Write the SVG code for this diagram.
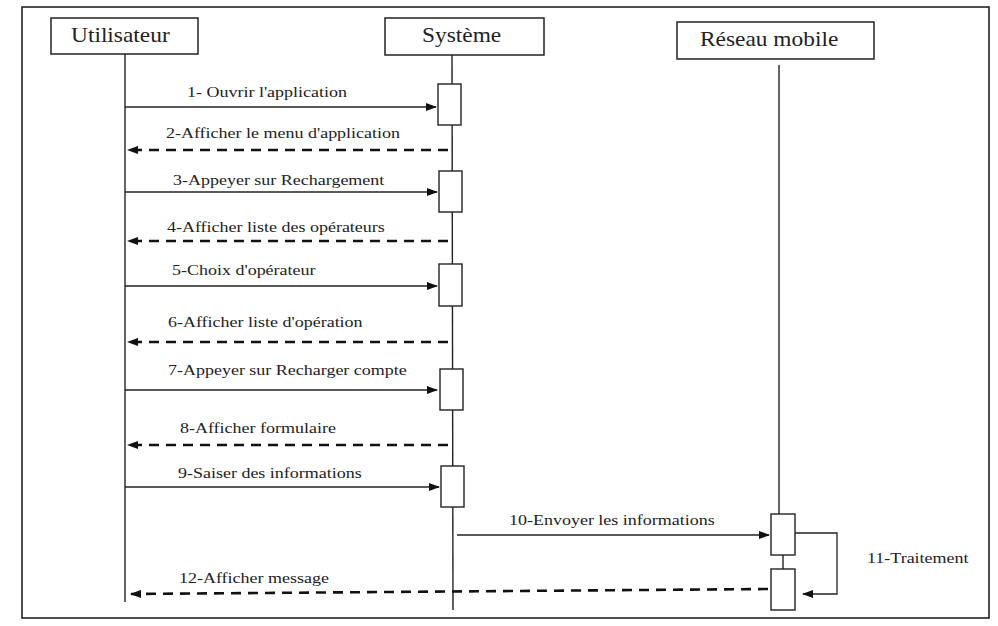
<svg xmlns="http://www.w3.org/2000/svg" width="998" height="626" viewBox="0 0 998 626">
<defs>
<marker id="ah" markerUnits="userSpaceOnUse" markerWidth="11" markerHeight="8" refX="10" refY="4" orient="auto">
<path d="M0,0 L11,4 L0,8 z" fill="#111"/>
</marker>
<style>
.box{fill:#fff;stroke:#222;stroke-width:1.5}
.act{fill:#fff;stroke:#222;stroke-width:1.4}
.life{stroke:#222;stroke-width:1.4;fill:none}
.msg{stroke:#222;stroke-width:1.3;fill:none;marker-end:url(#ah)}
.ret{stroke:#111;stroke-width:2.6;fill:none;stroke-dasharray:10 7;marker-end:url(#ah)}
</style>
</defs>
<rect x="0" y="0" width="998" height="626" fill="#fff"/>
<rect x="22" y="7" width="967" height="611" fill="none" stroke="#222" stroke-width="1.6"/>

<g id="lifelines">
<line class="life" x1="125" y1="54" x2="125" y2="602"/>
<line class="life" x1="452" y1="55" x2="453" y2="610"/>
<line class="life" x1="779" y1="65" x2="779" y2="514"/>
<line class="life" x1="783" y1="555" x2="783" y2="569"/>
</g>

<g id="utilisateur">
<rect class="box" x="51" y="18" width="147" height="36"/>
<text transform="translate(71,42) scale(1.17,1)" font-family="Liberation Serif" font-size="20" fill="#222">Utilisateur</text>
</g>
<g id="systeme">
<rect class="box" x="385" y="18" width="159" height="37"/>
<text transform="translate(422,42) scale(1.17,1)" font-family="Liberation Serif" font-size="20" fill="#222">Système</text>
<rect class="act" x="438" y="84" width="23" height="41"/>
<rect class="act" x="439" y="171" width="23" height="41"/>
<rect class="act" x="439" y="264" width="23" height="42"/>
<rect class="act" x="440" y="369" width="23" height="41"/>
<rect class="act" x="441" y="466" width="23" height="41"/>
</g>
<g id="reseau">
<rect class="box" x="677" y="22" width="197" height="37"/>
<text transform="translate(700,46) scale(1.17,1)" font-family="Liberation Serif" font-size="20" fill="#222">Réseau mobile</text>
<rect class="act" x="771" y="514" width="24" height="41"/>
<rect class="act" x="771" y="569" width="24" height="41"/>
</g>

<g id="connectors">
<line class="msg" x1="125" y1="107" x2="436" y2="107"/>
<line class="ret" x1="448" y1="150" x2="128" y2="150"/>
<line class="msg" x1="125" y1="192" x2="437" y2="192"/>
<line class="ret" x1="448" y1="241" x2="128" y2="241"/>
<line class="msg" x1="125" y1="286" x2="437" y2="286"/>
<line class="ret" x1="448" y1="342" x2="128" y2="342"/>
<line class="msg" x1="125" y1="390" x2="437" y2="390"/>
<line class="ret" x1="448" y1="445" x2="128" y2="445"/>
<line class="msg" x1="125" y1="487" x2="439" y2="487"/>
<line class="msg" x1="457" y1="535" x2="769" y2="535"/>
<polyline class="msg" points="795,533 837,533 837,594 803,594"/>
<line class="ret" x1="768" y1="589" x2="131" y2="594"/>
</g>

<g id="labels" font-family="Liberation Serif" font-size="15" fill="#222">
<text transform="translate(187,97) scale(1.2,1)">1- Ouvrir l'application</text>
<text transform="translate(166,138) scale(1.2,1)">2-Afficher le menu d'application</text>
<text transform="translate(173,185) scale(1.2,1)">3-Appeyer sur Rechargement</text>
<text transform="translate(167,232) scale(1.2,1)">4-Afficher liste des opérateurs</text>
<text transform="translate(172,275) scale(1.2,1)">5-Choix d'opérateur</text>
<text transform="translate(168,327) scale(1.2,1)">6-Afficher liste d'opération</text>
<text transform="translate(168,375) scale(1.2,1)">7-Appeyer sur Recharger compte</text>
<text transform="translate(180,433) scale(1.2,1)">8-Afficher formulaire</text>
<text transform="translate(178,478) scale(1.2,1)">9-Saiser des informations</text>
<text transform="translate(509,525) scale(1.2,1)">10-Envoyer les informations</text>
<text transform="translate(867,563) scale(1.2,1)">11-Traitement</text>
<text transform="translate(179,583) scale(1.2,1)">12-Afficher message</text>
</g>
</svg>
